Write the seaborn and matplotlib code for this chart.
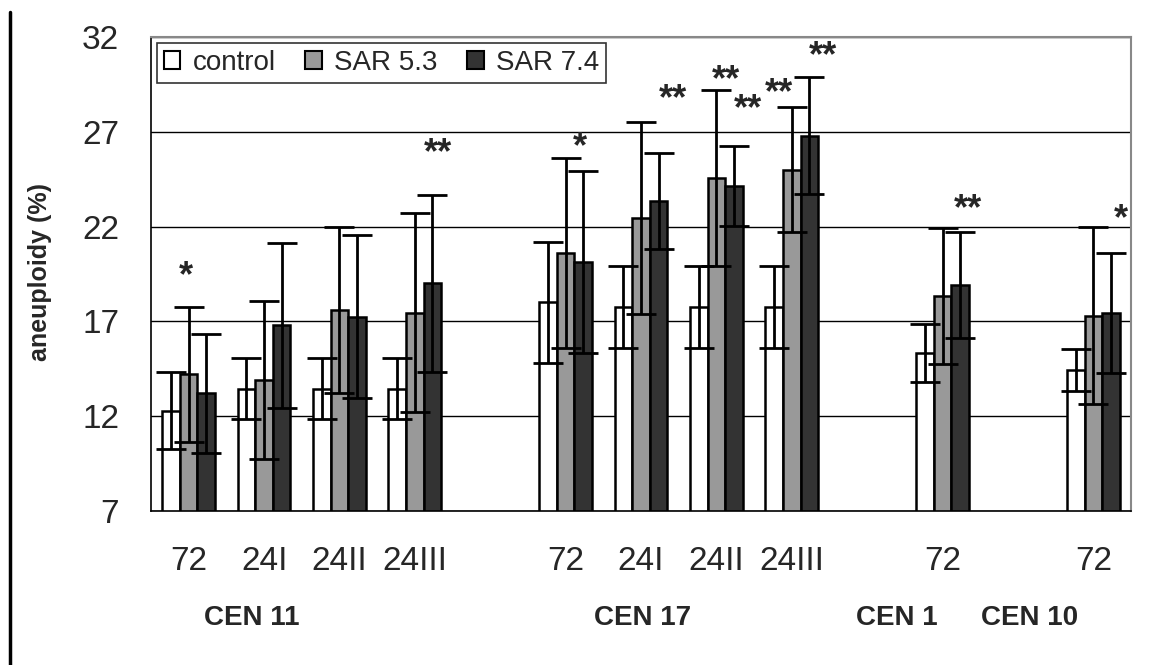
import numpy as np
import pandas as pd
import matplotlib
matplotlib.use("Agg")
import matplotlib.pyplot as plt
import matplotlib.transforms as mtransforms
from matplotlib.lines import Line2D
from matplotlib import font_manager as fm
import seaborn as sns

# ---------------- data ----------------
slot_keys = ["c11_72", "c11_24I", "c11_24II", "c11_24III", "gap1",
             "c17_72", "c17_24I", "c17_24II", "c17_24III", "gap2",
             "c1_72", "gap3", "c10_72"]
slot_labels = ["72", "24I", "24II", "24III", "",
               "72", "24I", "24II", "24III", "",
               "72", "", "72"]
bar_keys = [k for k in slot_keys if not k.startswith("gap")]

series_names = ["control", "SAR 5.3", "SAR 7.4"]
control = [12.3, 13.45, 13.45, 13.45, 18.0, 17.75, 17.75, 17.75, 15.35, 14.45]
control_err = [2.05, 1.6, 1.6, 1.6, 3.2, 2.15, 2.15, 2.15, 1.52, 1.1]
sar53 = [14.2, 13.9, 17.6, 17.45, 20.6, 22.45, 24.55, 25.0, 18.35, 17.3]
sar53_err = [3.55, 4.15, 4.37, 5.25, 5.0, 5.05, 4.63, 3.3, 3.6, 4.66]
sar74 = [13.2, 16.8, 17.25, 19.0, 20.15, 23.35, 24.15, 26.8, 18.9, 17.45]
sar74_err = [3.15, 4.35, 4.3, 4.65, 4.8, 2.55, 2.12, 3.07, 2.8, 3.15]

group_names = ["CEN 11", "CEN 17", "CEN 1", "CEN 10"]
group_label_x = [0.84, 6.02, 9.39, 11.16]

star_texts = ["*", "**", "*", "**", "**", "**", "**", "**", "**", "*"]
star_x = [-0.03, 3.31, 5.19, 6.42, 7.13, 7.42, 7.83, 8.41, 10.34, 12.37]
star_y = [19.7, 26.2, 26.5, 29.06, 30.03, 28.5, 29.37, 31.28, 23.23, 22.7]

colors = ["#ffffff", "#999999", "#333333"]

# ---------------- fonts ----------------
avail = {f.name for f in fm.fontManager.ttflist}
base_font = "Liberation Sans" if "Liberation Sans" in avail else "DejaVu Sans"
narrow_font = "Liberation Sans Narrow" if "Liberation Sans Narrow" in avail else base_font

sns.set_style("white")
plt.rcParams["font.family"] = [base_font, "DejaVu Sans"]

# ---------------- frame ----------------
values = [control, sar53, sar74]
errors = [control_err, sar53_err, sar74_err]
rows = []
for name, vals in zip(series_names, values):
    for k, v in zip(bar_keys, vals):
        rows.append({"slot": k, "series": name, "value": v})
df = pd.DataFrame(rows)

fig = plt.figure(figsize=(11.49, 6.65), dpi=100)
fig.subplots_adjust(left=151/1149, right=1131/1149, bottom=1-511/665, top=1-37/665)
ax = fig.add_subplot(111)

sns.barplot(data=df, x="slot", y="value", hue="series", order=slot_keys,
            hue_order=series_names, palette=colors, errorbar=None, width=0.7,
            edgecolor="black", linewidth=1.8, ax=ax, zorder=2)

# error bars
for cont, errs in zip(ax.containers, errors):
    patches = sorted(cont.patches, key=lambda p: p.get_x())
    xs = [p.get_x() + p.get_width()/2 for p in patches]
    hs = [p.get_height() for p in patches]
    ax.errorbar(xs, hs, yerr=errs, fmt="none", ecolor="black",
                elinewidth=2.0, capsize=11, capthick=2.0, zorder=3)

ax.set_ylim(7, 32)
ax.set_xlim(-0.5, 12.5)
ax.set_yticks([7, 12, 17, 22, 27, 32])
ax.yaxis.grid(True, color="black", linewidth=1.0)
ax.xaxis.grid(False)
ax.set_axisbelow(True)

ax.set_xticks(range(len(slot_keys)))
ax.set_xticklabels(slot_labels, fontsize=24, family=[narrow_font, "DejaVu Sans"])
ax.set_xticks(np.arange(-0.5, len(slot_keys), 1.0), minor=True)
ax.tick_params(axis="x", which="major", length=0, pad=25)
ax.tick_params(axis="x", which="minor", length=10, width=1.2, direction="out", color="black")
ax.tick_params(axis="y", length=9, width=1.2, direction="out", color="black", pad=14)
for lab in ax.get_yticklabels():
    lab.set_fontsize(24)
    lab.set_family([narrow_font, "DejaVu Sans"])

ax.set_xlabel("")
ax.set_ylabel("")
for s in ["left", "bottom"]:
    ax.spines[s].set_color("black")
    ax.spines[s].set_linewidth(1.2)
for s in ["top", "right"]:
    ax.spines[s].set_color("#888888")
    ax.spines[s].set_linewidth(1.5)

# legend
handles, labels = ax.get_legend_handles_labels()
leg = ax.legend(handles, labels, loc="upper left", bbox_to_anchor=(0.006, 0.987),
                ncol=3, frameon=True, fancybox=False, edgecolor="black",
                fontsize=20, handlelength=0.6, handleheight=0.6,
                handletextpad=0.45, columnspacing=1.05, borderpad=0.25,
                borderaxespad=0)
leg.get_frame().set_linewidth(1.2)
for h in leg.legend_handles:
    h.set_edgecolor("black")
    h.set_linewidth(1.5)

# significance stars
for t, x, y in zip(star_texts, star_x, star_y):
    ax.annotate(t, (x, y), xytext=(0, -11.5), textcoords="offset points",
                ha="center", va="baseline", fontsize=26, fontweight="bold", zorder=4)

# group labels
trans = mtransforms.blended_transform_factory(ax.transData, fig.transFigure)
for name, x in zip(group_names, group_label_x):
    ax.text(x, 1-618/665, name, transform=trans, ha="center", va="center",
            fontsize=20, fontweight="bold")

fig.text(40/1149, 1-272/665, "aneuploidy (%)", rotation=90, ha="center",
         va="center", fontsize=18, fontweight="bold")

fig.add_artist(Line2D([10/1149, 10/1149], [0, 1-12/665], transform=fig.transFigure,
                      color="black", linewidth=2.5))

fig.savefig("out.png", dpi=100)
